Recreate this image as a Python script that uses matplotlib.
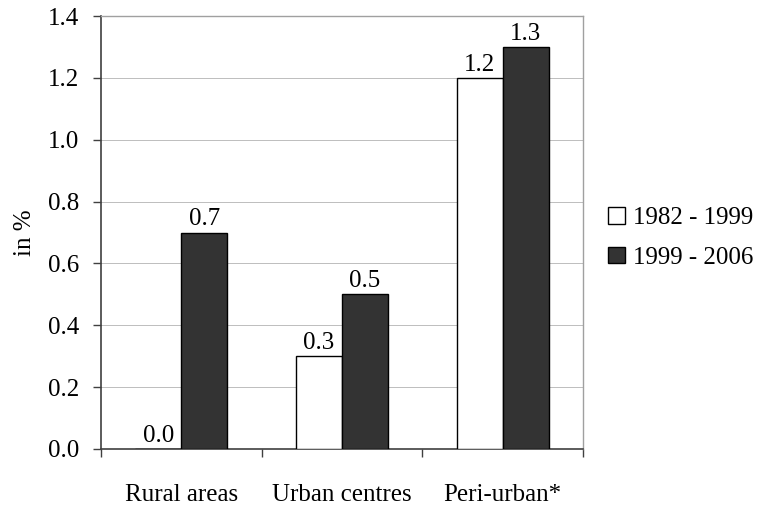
import matplotlib
matplotlib.use("Agg")
import matplotlib.pyplot as plt
from matplotlib.patches import Patch
import numpy as np

categories = ["Rural areas", "Urban centres", "Peri-urban*"]
series_names = ["1982 - 1999", "1999 - 2006"]
values_1982_1999 = [0.0, 0.3, 1.2]
values_1999_2006 = [0.7, 0.5, 1.3]
yticks = [0.0, 0.2, 0.4, 0.6, 0.8, 1.0, 1.2, 1.4]

plt.rcParams['font.family'] = ['Liberation Serif', 'DejaVu Serif']
FS = 18

fig = plt.figure(figsize=(7.66, 5.05), dpi=100)
ax = fig.add_axes([0.1319, 0.1109, 0.761 - 0.1319, 0.9683 - 0.1109])

x = np.arange(len(categories))
w = 0.287
b1 = ax.bar(x - w / 2, values_1982_1999, w, color="white", edgecolor="black", linewidth=1.0, zorder=3)
b2 = ax.bar(x + w / 2, values_1999_2006, w, color="#333333", edgecolor="black", linewidth=1.0, zorder=3)

for bars, vals in ((b1, values_1982_1999), (b2, values_1999_2006)):
    for r, v in zip(bars, vals):
        ax.annotate(f"{v:.1f}", (r.get_x() + r.get_width() / 2, v), xytext=(0, 1.5),
                    textcoords="offset points", ha="center", va="bottom", fontsize=FS)

ax.set_xlim(-0.5, 2.5)
ax.set_ylim(0, 1.4)
ax.set_yticks(yticks)
ax.set_yticklabels([f"{t:.1f}" for t in yticks], fontsize=FS)
ax.yaxis.grid(True, color="#bdbdbd", linewidth=0.7, zorder=0)
ax.set_axisbelow(True)

ax.set_xticks([-0.5, 0.5, 1.5, 2.5])
ax.set_xticklabels([])
ax.set_xticks(x, minor=True)
ax.set_xticklabels(categories, minor=True, fontsize=FS)
ax.tick_params(axis="x", which="minor", length=0, pad=25)
ax.tick_params(axis="x", which="major", length=6, width=1, color="#404040", direction="out")
ax.tick_params(axis="y", length=6, width=1, color="#404040", direction="out", pad=10)

for s in ("left", "bottom"):
    ax.spines[s].set_color("#404040")
    ax.spines[s].set_linewidth(1.2)
for s in ("top", "right"):
    ax.spines[s].set_color("#a0a0a0")
    ax.spines[s].set_linewidth(1.0)

ax.set_ylabel("in %", fontsize=FS, labelpad=8)

handles = [Patch(facecolor="white", edgecolor="black", linewidth=1.0),
           Patch(facecolor="#333333", edgecolor="black", linewidth=1.0)]
fig.legend(handles, series_names, loc="center left", bbox_to_anchor=(0.778, 0.529),
           frameon=False, fontsize=FS, handlelength=0.65, handleheight=0.65,
           handletextpad=0.35, labelspacing=0.7, borderpad=0)

fig.savefig("out.png", dpi=100)
